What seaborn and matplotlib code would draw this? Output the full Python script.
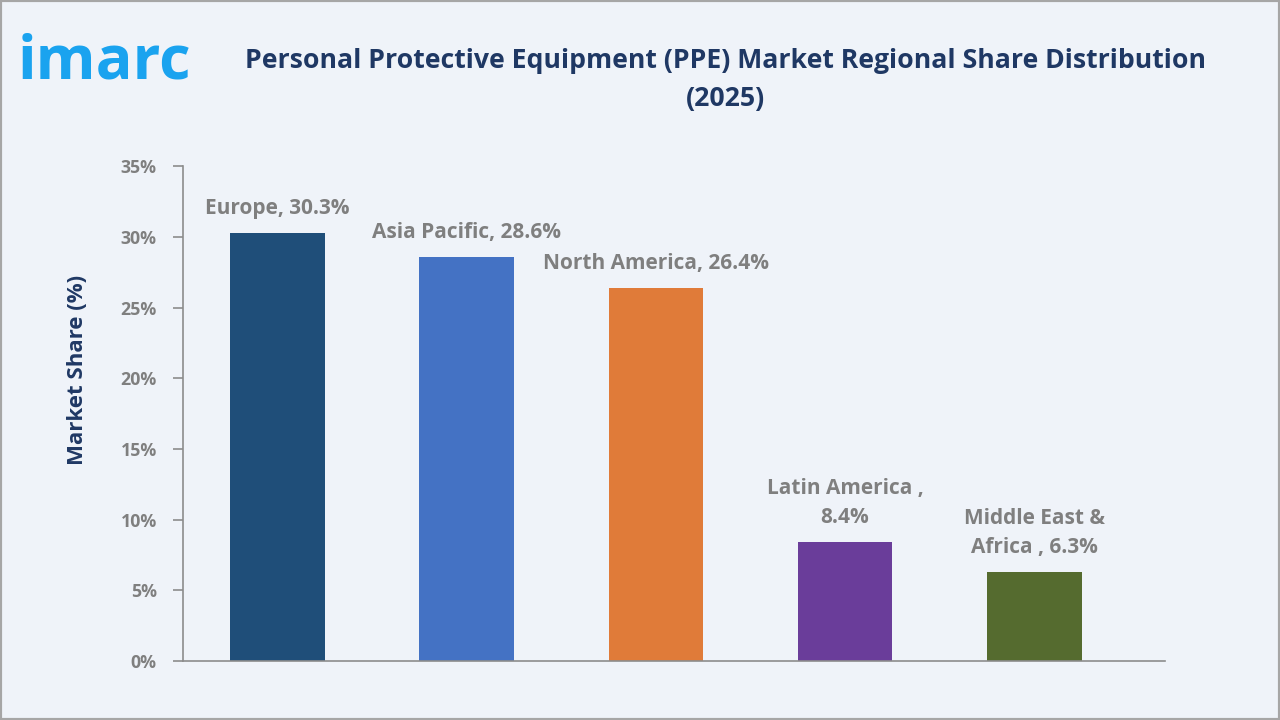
import numpy as np
import pandas as pd
import matplotlib
matplotlib.use('Agg')
import matplotlib.pyplot as plt
import seaborn as sns
from matplotlib.patches import Rectangle

sns.set_style('white')
plt.rcParams['font.family'] = ['Open Sans', 'DejaVu Sans']

# %% Data
regions = ['Europe', 'Asia Pacific', 'North America', 'Latin America', 'Middle East & Africa']
shares = [30.3, 28.6, 26.4, 8.4, 6.3]
bar_labels = ['Europe, 30.3%', 'Asia Pacific, 28.6%', 'North America, 26.4%',
              'Latin America ,\n8.4%', 'Middle East &\nAfrica , 6.3%']
bar_colors = ['#1F4E79', '#4472C4', '#E07B39', '#6A3D9A', '#556B2F']
y_ticks = [0, 5, 10, 15, 20, 25, 30, 35]

df = pd.DataFrame({'region': regions, 'share': shares})

bg = '#EFF3F9'
navy = '#1F3864'
gray = '#7F7F7F'

# %% Plot
fig = plt.figure(figsize=(12.8, 7.2), dpi=100, facecolor=bg)
ax = fig.add_axes([0.143, 0.082, 0.767, 0.687])
ax.set_facecolor(bg)

sns.barplot(data=df, x='region', y='share', hue='region', palette=bar_colors,
            width=0.5, legend=False, saturation=1, linewidth=0, ax=ax)

for i, (v, lab) in enumerate(zip(shares, bar_labels)):
    ax.annotate(lab, (i, v), xytext=(0, 10), textcoords='offset points',
                ha='center', va='bottom', fontsize=15, fontweight='bold',
                color=gray, linespacing=1.5)

ax.set_ylim(0, 35)
ax.set_xlim(-0.5, 4.69)
ax.set_yticks(y_ticks)
ax.set_yticklabels(['{}%'.format(t) for t in y_ticks], fontsize=12.8,
                   fontweight='bold', color=gray)
ax.set_xticks([])
ax.set_xlabel('')
ax.set_ylabel('Market Share (%)', fontsize=16, fontweight='bold', color=navy)
ax.yaxis.set_label_coords(-0.097, 0.588)

for s in ['top', 'right']:
    ax.spines[s].set_visible(False)
for s in ['left', 'bottom']:
    ax.spines[s].set_color('#8C8C8C')
    ax.spines[s].set_linewidth(1.2)
ax.tick_params(axis='y', direction='out', length=7, width=1.2, color='#8C8C8C', pad=12, left=True)

# %% Title and logo
fig.text(0.567, 0.889, 'Personal Protective Equipment (PPE) Market Regional Share Distribution\n(2025)',
         ha='center', va='center', fontsize=19.2, fontweight='bold', color=navy, linespacing=1.6)
fig.text(0.014, 0.912, 'imarc', ha='left', va='center', fontsize=44, fontweight='bold',
         color='#1AA3EF')

# border
fig.patches.append(Rectangle((0, 0), 1, 1, transform=fig.transFigure, fill=False,
                             edgecolor='#A6A6A6', linewidth=3))

fig.savefig('out.png', dpi=100, facecolor=bg)
